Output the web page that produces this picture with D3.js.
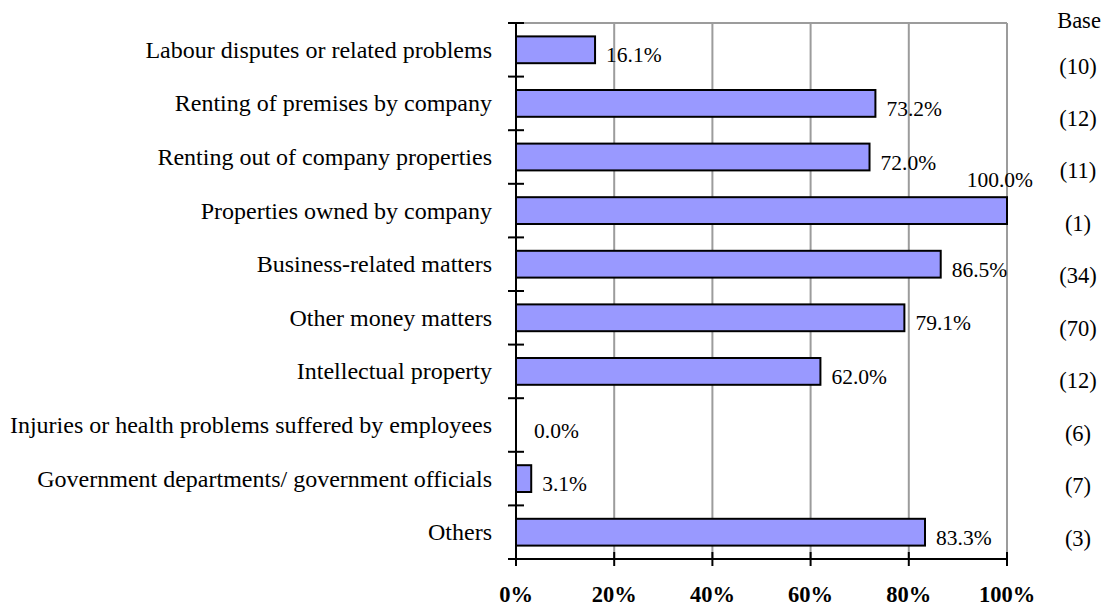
<!DOCTYPE html>
<html lang="en">
<head>
    <meta charset="UTF-8">
    <title>bar_chart_base</title>
    <style>
        body { margin: 0; background: #ffffff; }
        text { font-family: "Liberation Serif", "Times New Roman", serif; fill: #000; }
    </style>
</head>
<body>
    <div id="chart"></div>

    <script src="https://d3js.org/d3.v7.min.js"></script>
    <script>
        // data
        var categories = [
            "Labour disputes or related problems",
            "Renting of premises by company",
            "Renting out of company properties",
            "Properties owned by company",
            "Business-related matters",
            "Other money matters",
            "Intellectual property",
            "Injuries or health problems suffered by employees",
            "Government departments/ government officials",
            "Others"
        ];
        var values = [16.1, 73.2, 72.0, 100.0, 86.5, 79.1, 62.0, 0.0, 3.1, 83.3];
        var bases = ["(10)", "(12)", "(11)", "(1)", "(34)", "(70)", "(12)", "(6)", "(7)", "(3)"];
        var xTicks = [0, 20, 40, 60, 80, 100];

        var W = 1111, H = 608;
        // plot box (note: "top" is taken by window.top, so use other names)
        var plotLeft = 516, plotRight = 1007, plotTop = 23, plotBottom = 559;

        var svg = d3.select("#chart")
            .append("svg")
            .attr("width", W)
            .attr("height", H);

        var x = d3.scaleLinear()
            .domain([0, 100])
            .range([plotLeft, plotRight]);

        var y = d3.scaleBand()
            .domain(categories)
            .range([plotTop, plotBottom])
            .paddingInner(0.5)
            .paddingOuter(0.25);

        // base column sits on its own spacing
        var yBase = d3.scalePoint()
            .domain(d3.range(bases.length))
            .range([68, 540]);

        // gridlines (gray) incl. the right border at 100%
        svg.append("g")
            .selectAll("line")
            .data(xTicks.slice(1))
            .enter()
            .append("line")
            .attr("x1", function(d) { return x(d); })
            .attr("x2", function(d) { return x(d); })
            .attr("y1", plotTop)
            .attr("y2", plotBottom)
            .style("stroke", "#9c9c9c")
            .style("stroke-width", 2);

        // top border
        svg.append("line")
            .attr("x1", plotLeft).attr("x2", plotRight)
            .attr("y1", plotTop).attr("y2", plotTop)
            .style("stroke", "#9c9c9c")
            .style("stroke-width", 2);

        // bars (the 0% one is not drawn)
        svg.append("g")
            .selectAll("rect")
            .data(values.map(function(v, i) { return {v: v, c: categories[i]}; }))
            .enter()
            .append("rect")
            .filter(function(d) { return d.v > 0; })
            .attr("x", x(0))
            .attr("y", function(d) { return y(d.c); })
            .attr("width", function(d) { return x(d.v) - x(0); })
            .attr("height", y.bandwidth())
            .style("fill", "#9999ff")
            .style("stroke", "#000")
            .style("stroke-width", 2);

        // value labels
        svg.append("g")
            .selectAll("text")
            .data(values)
            .enter()
            .append("text")
            .attr("x", function(d) {
                if (d >= 100) return x(d) + 26;
                if (d === 0) return x(d) + 18;
                return x(d) + 11;
            })
            .attr("y", function(d, i) {
                var c = y(categories[i]) + y.bandwidth() / 2;
                return d >= 100 ? y(categories[i]) - 10 : c + 12.5;
            })
            .attr("text-anchor", function(d) { return d >= 100 ? "end" : "start"; })
            .style("font-size", "21.5px")
            .text(function(d) { return d.toFixed(1) + "%"; });

        // category labels
        svg.append("g")
            .selectAll("text")
            .data(categories)
            .enter()
            .append("text")
            .attr("x", 492)
            .attr("y", function(d) { return y(d) + y.bandwidth() / 2 + 8; })
            .attr("text-anchor", "end")
            .style("font-size", "24px")
            .text(function(d) { return d; });

        // left axis with crossing ticks at band edges
        var step = y.step();
        svg.append("line")
            .attr("x1", plotLeft).attr("x2", plotLeft)
            .attr("y1", plotTop).attr("y2", plotBottom)
            .style("stroke", "#000")
            .style("stroke-width", 2);
        svg.append("g")
            .selectAll("line")
            .data(d3.range(categories.length + 1))
            .enter()
            .append("line")
            .attr("x1", plotLeft - 8)
            .attr("x2", plotLeft + 8)
            .attr("y1", function(i) { return plotTop + i * step; })
            .attr("y2", function(i) { return plotTop + i * step; })
            .style("stroke", "#000")
            .style("stroke-width", 2);

        // bottom axis
        svg.append("line")
            .attr("x1", plotLeft).attr("x2", plotRight)
            .attr("y1", plotBottom).attr("y2", plotBottom)
            .style("stroke", "#000")
            .style("stroke-width", 2);
        svg.append("g")
            .selectAll("line")
            .data(xTicks)
            .enter()
            .append("line")
            .attr("x1", function(d) { return x(d); })
            .attr("x2", function(d) { return x(d); })
            .attr("y1", plotBottom - 7)
            .attr("y2", plotBottom + 7)
            .style("stroke", "#000")
            .style("stroke-width", 2);
        svg.append("g")
            .selectAll("text")
            .data(xTicks)
            .enter()
            .append("text")
            .attr("x", function(d) { return x(d); })
            .attr("y", 602)
            .attr("text-anchor", "middle")
            .style("font-size", "22.5px")
            .style("font-weight", "bold")
            .text(function(d) { return d + "%"; });

        // base column
        svg.append("text")
            .attr("x", 1079)
            .attr("y", 28)
            .attr("text-anchor", "middle")
            .style("font-size", "22.5px")
            .text("Base");
        svg.append("g")
            .selectAll("text")
            .data(bases)
            .enter()
            .append("text")
            .attr("x", 1078)
            .attr("y", function(d, i) { return yBase(i) + 5.5; })
            .attr("text-anchor", "middle")
            .style("font-size", "22.5px")
            .text(function(d) { return d; });
    </script>
</body>
</html>
